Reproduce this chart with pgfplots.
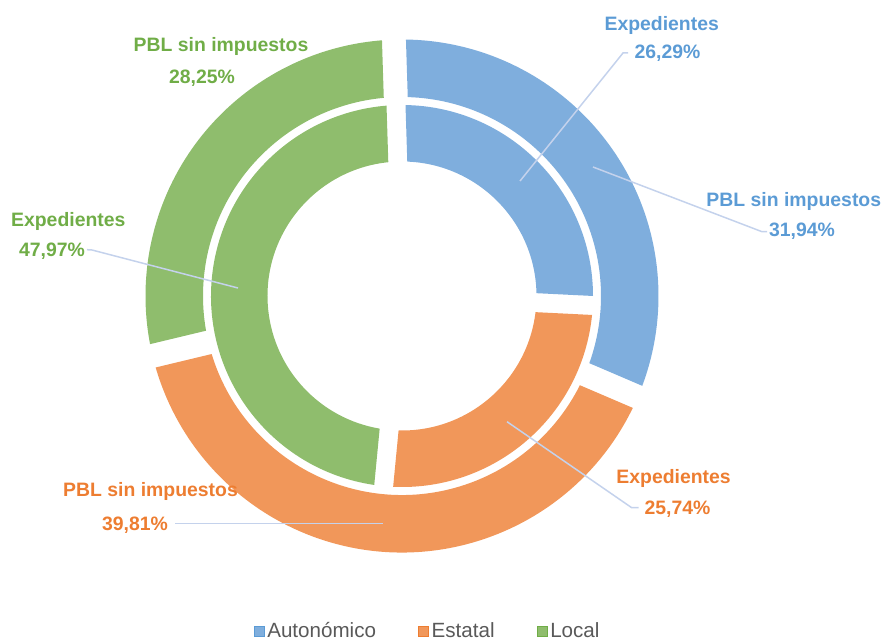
\documentclass[border=0pt]{standalone}
\usepackage{fontspec}
\setmainfont{Liberation Sans}
\usepackage{pgfplots}
\pgfplotsset{compat=1.18}
\definecolor{bfill}{RGB}{127,174,221}
\definecolor{ofill}{RGB}{241,151,90}
\definecolor{gfill}{RGB}{143,189,109}
\definecolor{btext}{RGB}{91,155,213}
\definecolor{otext}{RGB}{237,125,49}
\definecolor{gtext}{RGB}{112,173,71}
\definecolor{leader}{RGB}{196,210,236}
\definecolor{legtext}{RGB}{89,89,89}
\newcommand{\cx}{402}
\newcommand{\cy}{343}
\newcommand{\rot}{-1.8}
\gdef\cumO{0}
\gdef\cumI{0}
% #1 cumulative macro, #2 value (percent), #3 outer radius, #4 inner radius, #5 gap width, #6 colour
\newcommand{\sector}[6]{%
\pgfplotsextra{%
 \pgfmathsetmacro\aA{3.6*#1+\rot}%
 \pgfmathsetmacro\aB{3.6*(#1+#2)+\rot}%
 \pgfmathsetmacro\dR{asin(#5/(2*#3))}%
 \pgfmathsetmacro\dr{asin(#5/(2*#4))}%
 \pgfmathsetmacro\pAx{\cx+#3*sin(\aA+\dR)}%
 \pgfmathsetmacro\pAy{\cy+#3*cos(\aA+\dR)}%
 \pgfmathsetmacro\pBx{\cx+#4*sin(\aB-\dr)}%
 \pgfmathsetmacro\pBy{\cy+#4*cos(\aB-\dr)}%
 \pgfmathsetmacro\sA{90-\aA-\dR}%
 \pgfmathsetmacro\sB{90-\aB+\dR}%
 \pgfmathsetmacro\tA{90-\aA-\dr}%
 \pgfmathsetmacro\tB{90-\aB+\dr}%
 \fill[#6] (axis cs:\pAx,\pAy) arc[start angle=\sA, end angle=\sB, radius=#3*0.5pt]
   -- (axis cs:\pBx,\pBy) arc[start angle=\tB, end angle=\tA, radius=#4*0.5pt] -- cycle;
 \pgfmathsetmacro\secttmp{#1+#2}\xdef#1{\secttmp}%
}}
\newcommand{\lab}{\fontsize{9.7}{11.6}\selectfont\bfseries}
\begin{document}
\begin{tikzpicture}
\begin{axis}[
  scale only axis, width=441.5pt, height=319.5pt,
  xmin=0, xmax=883, ymin=0, ymax=639,
  hide axis, clip=false,
  legend columns=3,
  legend style={draw=none, fill=none, at={(axis cs:428,7.5)}, anchor=center,
    font=\fontsize{10.3}{12}\selectfont, text=legtext,
    /tikz/every even column/.append style={column sep=20pt},
    nodes={inner sep=1.2pt}},
  legend image code/.code={\draw[#1] (0pt,-2.5pt) rectangle (5pt,2.5pt);},
]
\addlegendimage{fill=bfill, draw=btext, line width=0.4pt}
\addlegendimage{fill=ofill, draw=otext, line width=0.4pt}
\addlegendimage{fill=gfill, draw=gtext, line width=0.4pt}
\legend{Autonómico, Estatal, Local}
% outer ring: PBL sin impuestos
\sector{\cumO}{31.94}{256.5}{199}{24}{bfill}
\sector{\cumO}{39.81}{256.5}{199}{24}{ofill}
\sector{\cumO}{28.25}{256.5}{199}{24}{gfill}
% inner ring: Expedientes
\sector{\cumI}{26.29}{191}{134.5}{19}{bfill}
\sector{\cumI}{25.74}{191}{134.5}{19}{ofill}
\sector{\cumI}{47.97}{191}{134.5}{19}{gfill}
% leader lines
\draw[leader, line width=0.75pt] (axis cs:520,458) -- (axis cs:623,586) -- (axis cs:628,586);
\draw[leader, line width=0.75pt] (axis cs:593,472) -- (axis cs:762,407.3) -- (axis cs:767,407.3);
\draw[leader, line width=0.75pt] (axis cs:87,389.3) -- (axis cs:92,389) -- (axis cs:238,351);
\draw[leader, line width=0.75pt] (axis cs:175,115.7) -- (axis cs:383,115.7);
\draw[leader, line width=0.75pt] (axis cs:507,217.3) -- (axis cs:631.7,131.3) -- (axis cs:638.6,131.3);
% labels
\node[btext, inner sep=0pt] at (axis cs:661.7,614) {\lab Expedientes};
\node[btext, inner sep=0pt] at (axis cs:667.5,585.7) {\lab 26,29\%};
\node[btext, inner sep=0pt] at (axis cs:793.8,437.3) {\lab PBL sin impuestos};
\node[btext, inner sep=0pt] at (axis cs:802,407.3) {\lab 31,94\%};
\node[gtext, inner sep=0pt] at (axis cs:221,592.3) {\lab PBL sin impuestos};
\node[gtext, inner sep=0pt] at (axis cs:202,560.7) {\lab 28,25\%};
\node[gtext, inner sep=0pt] at (axis cs:68.3,417.3) {\lab Expedientes};
\node[gtext, inner sep=0pt] at (axis cs:52,387.3) {\lab 47,97\%};
\node[otext, inner sep=0pt] at (axis cs:150.5,147.3) {\lab PBL sin impuestos};
\node[otext, inner sep=0pt] at (axis cs:135,114) {\lab 39,81\%};
\node[otext, inner sep=0pt] at (axis cs:673.6,160.7) {\lab Expedientes};
\node[otext, inner sep=0pt] at (axis cs:677.5,130) {\lab 25,74\%};
\end{axis}
\pgfresetboundingbox
\path (current axis.south west) rectangle (current axis.north east);
\end{tikzpicture}
\end{document}
